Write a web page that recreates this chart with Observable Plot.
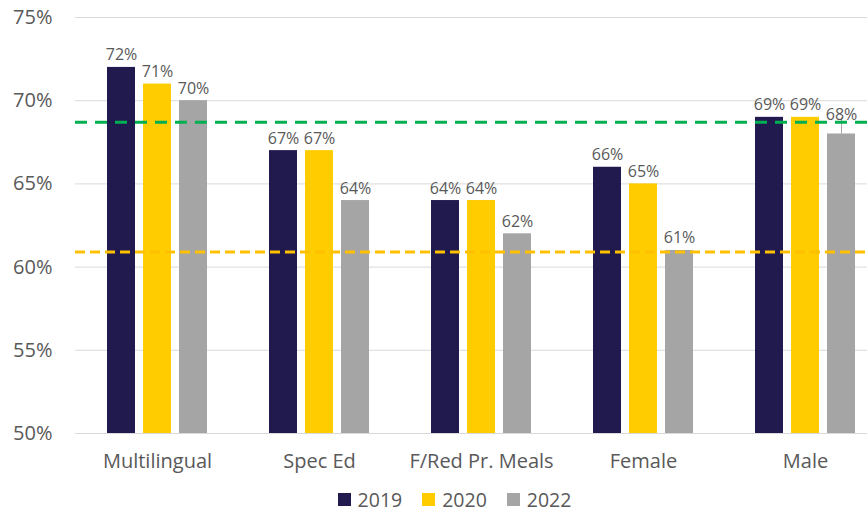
<!DOCTYPE html>
<html><head><meta charset="utf-8">
<script src="https://cdn.jsdelivr.net/npm/d3@7"></script>
<script src="https://cdn.jsdelivr.net/npm/@observablehq/plot@0.6"></script>
<style>
body{margin:0;background:#fff;font-family:"Open Sans",sans-serif;overflow:hidden}
#chart svg{display:block}
#legend{display:flex;justify-content:center;align-items:center;height:25px;padding-top:4px;padding-left:42px;color:#595959;font-size:19.5px;line-height:25px}
#legend .item{display:flex;align-items:center;margin:0 10px}
#legend .sw{width:13px;height:13px;margin-right:7px}
</style>
</head><body><div id="chart"></div><div id="legend"></div>
<script>
const categories = ["Multilingual","Spec Ed","F/Red Pr. Meals","Female","Male"];
const years = ["2019","2020","2022"];
const values2019 = [72,67,64,66,69];
const values2020 = [71,67,64,65,69];
const values2022 = [70,64,62,61,68];
const greenLine = 68.7;
const orangeLine = 60.9;
const yTicks = [50,55,60,65,70,75];
const colors = ["#201A4F","#FFCC00","#A5A5A5"];

const series = [values2019, values2020, values2022];
const data = [];
years.forEach((yr, i) => categories.forEach((c, j) => data.push({cat: c, year: yr, yi: i, v: series[i][j]})));

const step = 36, bw = 28, band = 100;
const barMarks = years.map((yr, i) => Plot.barY(data.filter(d => d.yi === i), {
  x: "cat", y1: () => 50, y2: "v", fill: colors[i],
  insetLeft: i * step, insetRight: band - i * step - bw
}));
// the Male 2022 label is lifted above the green line, with a leader line
const lifted = d => d.cat === "Male" && d.year === "2022";
const labelsNormal = years.map((yr, i) => Plot.text(data.filter(d => d.yi === i && !lifted(d)), {
  x: "cat", y: "v", text: d => d.v + "%", dx: (i - 1) * step, dy: -7,
  fill: "#595959", fontSize: 16, lineAnchor: "bottom"
}));
const labelsLifted = Plot.text(data.filter(lifted), {
  x: "cat", y: "v", text: d => d.v + "%", dx: step, dy: -14,
  fill: "#595959", fontSize: 16, lineAnchor: "bottom"
});
const leader = Plot.ruleX(data.filter(lifted), {
  x: "cat", y1: "v", y2: d => d.v + 0.95, dx: step, stroke: "#A5A5A5", strokeWidth: 1
});

const chart = Plot.plot({
  width: 867, height: 483,
  marginTop: 17, marginBottom: 50, marginLeft: 75, marginRight: 0,
  style: {fontFamily: "'Open Sans', sans-serif", background: "#fff"},
  x: {domain: categories, range: [75, 886], paddingInner: 0.383, paddingOuter: 0.19, label: null, tickSize: 0, tickPadding: 20},
  y: {domain: [50, 75], range: [433, 17], ticks: yTicks, tickFormat: d => d + "%", label: null, tickSize: 0, tickPadding: 23},
  marks: [
    Plot.ruleY(yTicks, {stroke: "#D9D9D9", strokeWidth: 1}),
    ...barMarks,
    leader,
    Plot.ruleY([greenLine], {stroke: "#00B050", strokeWidth: 3, strokeDasharray: "12,8"}),
    Plot.ruleY([orangeLine], {stroke: "#FFC000", strokeWidth: 3, strokeDasharray: "10,5"}),
    ...labelsNormal,
    labelsLifted
  ]
});
chart.querySelectorAll('[aria-label="x-axis tick label"], [aria-label="x-axis"]').forEach(g => {g.setAttribute("font-size", 20); g.setAttribute("fill", "#595959");});
chart.querySelectorAll('[aria-label="y-axis tick label"], [aria-label="y-axis"]').forEach(g => {g.setAttribute("font-size", 20); g.setAttribute("fill", "#595959");});
document.getElementById("chart").appendChild(chart);

const legend = document.getElementById("legend");
years.forEach((yr, i) => {
  const it = document.createElement("div"); it.className = "item";
  const sw = document.createElement("div"); sw.className = "sw"; sw.style.background = colors[i];
  const t = document.createElement("span"); t.textContent = yr;
  it.appendChild(sw); it.appendChild(t); legend.appendChild(it);
});
</script>
</body></html>
